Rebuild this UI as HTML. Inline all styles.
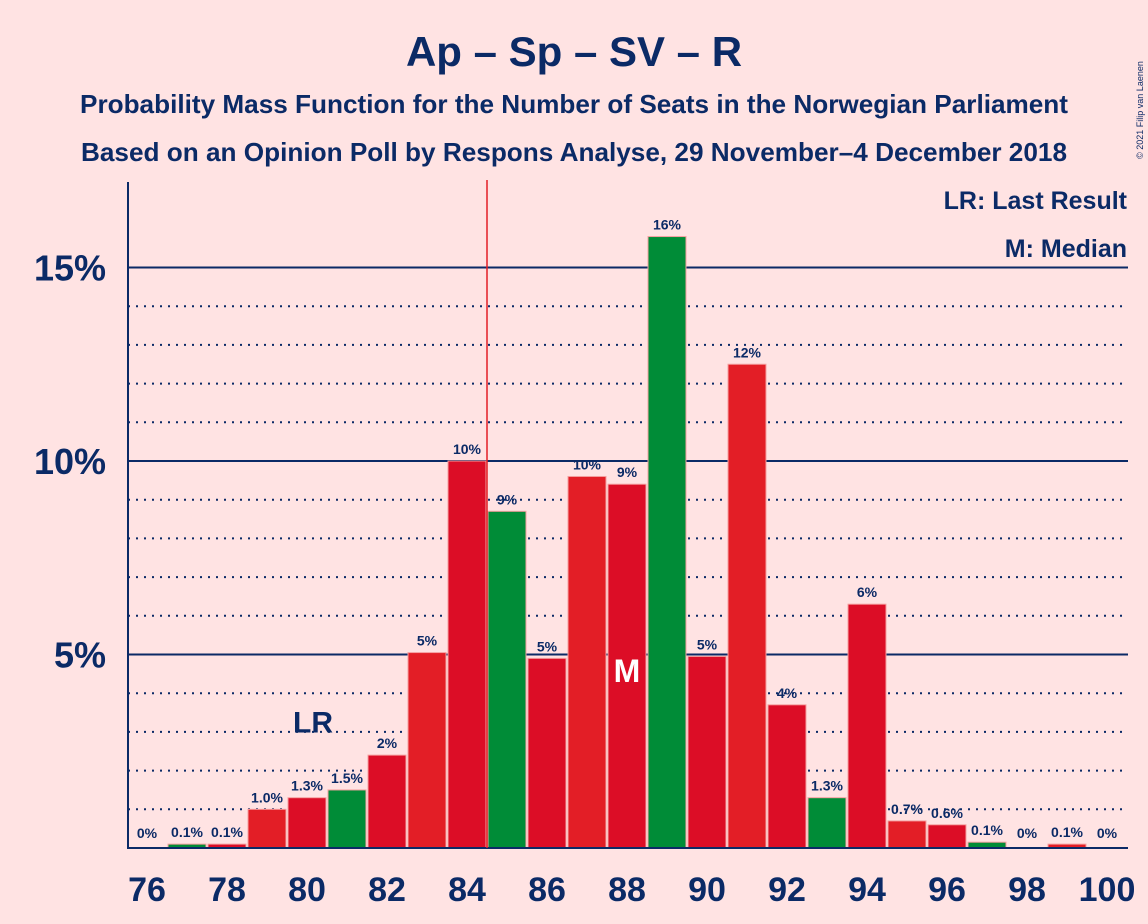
<!DOCTYPE html>
<html><head><meta charset="utf-8"><style>
body{margin:0;background:#ffe3e3;}
svg{display:block;font-family:"Liberation Sans",sans-serif;}
</style></head><body>
<svg id="c" width="1148" height="924" viewBox="0 0 1148 924">
<rect width="1148" height="924" fill="#ffe3e3"/>
<text x="574" y="66" text-anchor="middle" font-size="42" font-weight="bold" fill="#0b2a66">Ap – Sp – SV – R</text>
<text x="574" y="113" text-anchor="middle" font-size="26" font-weight="bold" fill="#0b2a66" textLength="988" lengthAdjust="spacingAndGlyphs">Probability Mass Function for the Number of Seats in the Norwegian Parliament</text>
<text x="574" y="161" text-anchor="middle" font-size="26" font-weight="bold" fill="#0b2a66" textLength="986" lengthAdjust="spacingAndGlyphs">Based on an Opinion Poll by Respons Analyse, 29 November–4 December 2018</text>
<text x="1143" y="110" transform="rotate(-90 1143 110)" text-anchor="middle" font-size="9" fill="#0b2a66">© 2021 Filip van Laenen</text>
<g id="grid"></g>
<g id="bars"></g>
<g id="labels"></g>
<text x="1127" y="209" text-anchor="end" font-size="25" font-weight="bold" fill="#0b2a66">LR: Last Result</text>
<text x="1127" y="257" text-anchor="end" font-size="25" font-weight="bold" fill="#0b2a66">M: Median</text>
</svg>
<script>
const seats=[76,77,78,79,80,81,82,83,84,85,86,87,88,89,90,91,92,93,94,95,96,97,98,99,100];
const probs=[0,0.1,0.1,1.0,1.3,1.5,2.4,5.05,10.0,8.7,4.9,9.6,9.4,15.8,4.95,12.5,3.7,1.3,6.3,0.7,0.6,0.15,0,0.1,0];
const valueLabels=["0%","0.1%","0.1%","1.0%","1.3%","1.5%","2%","5%","10%","9%","5%","10%","9%","16%","5%","12%","4%","1.3%","6%","0.7%","0.6%","0.1%","0%","0.1%","0%"];
const yTicks=[5,10,15];
const xTicks=[76,78,80,82,84,86,88,90,92,94,96,98,100];
const lastResult=80, median=88, majority=84.5;
const NS="http://www.w3.org/2000/svg";
const X=s=>147+(s-76)*40;
const Y=v=>848-v*38.7;
function mk(t,a,p){const e=document.createElementNS(NS,t);for(const k in a)e.setAttribute(k,a[k]);p.appendChild(e);return e;}
const grid=document.getElementById('grid'),bars=document.getElementById('bars'),labels=document.getElementById('labels');
for(let v=1;v<=15;v++){
  const l=mk('line',{x1:128,x2:1128,y1:Y(v),y2:Y(v),stroke:'#0b2a66','stroke-width':2,'stroke-dasharray':v%5===0?'':'2 6'},grid);
  
  
}
yTicks.forEach(v=>{
  const t=mk('text',{x:106,y:Y(v)+13,'text-anchor':'end','font-size':36,'font-weight':'bold',fill:'#0b2a66'},grid);
  t.textContent=v+'%';
  
  
});
const ax=mk('line',{x1:128,x2:128,y1:182,y2:849,stroke:'#0b2a66','stroke-width':2},grid);


xTicks.forEach(s=>{
  const t=mk('text',{x:X(s),y:901,'text-anchor':'middle','font-size':34,'font-weight':'bold',fill:'#0b2a66'},grid);
  t.textContent=s;
  
  
});
seats.forEach((s,i)=>{
  const v=probs[i];
  let col;
  if((s-81)%4===0) col='#008c37'; else col=(s%2===0)?'#dc0d26':'#e31e26';
  if(s%4===3) col='#e31e26';
  if(v>0){
    const r=mk('rect',{x:X(s)-19,y:Y(v),width:38,height:848-Y(v),fill:col,stroke:'#f5a0a0','stroke-width':1},bars);
    
    
  }
  const t=mk('text',{x:X(s),y:Y(v)-7,'text-anchor':'middle','font-size':14,'font-weight':'bold',fill:'#0b2a66'},labels);
  if(v===0) t.setAttribute('y',838);
  t.textContent=valueLabels[i];
  
  
});
const base=mk('line',{x1:128,x2:1128,y1:848,y2:848,stroke:'#0b2a66','stroke-width':2},labels);


const mj=mk('line',{x1:X(majority),x2:X(majority),y1:180,y2:848,stroke:'#e31e26','stroke-width':1.5},labels);


const lr=mk('text',{x:X(lastResult)+6,y:Y(probs[seats.indexOf(lastResult)])-65,'text-anchor':'middle','font-size':30,'font-weight':'bold',fill:'#0b2a66'},labels);
lr.textContent='LR';


const m=mk('text',{x:X(median),y:682,'text-anchor':'middle','font-size':32,'font-weight':'bold',fill:'#ffffff'},labels);
m.textContent='M';


</script>
</body></html>
